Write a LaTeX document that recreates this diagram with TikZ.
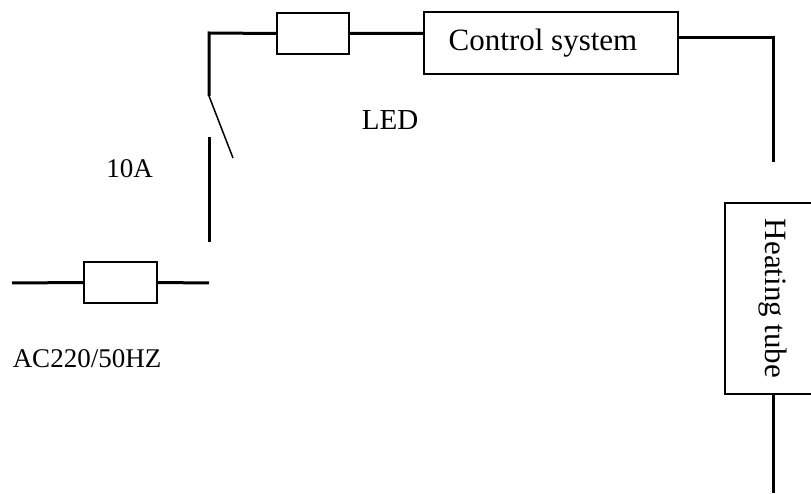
\documentclass[tikz,border=0pt]{standalone}
\usepackage{fontspec}
\setmainfont{Liberation Serif}
\usetikzlibrary{calc}
\usetikzlibrary{positioning}

\begin{document}
\begin{tikzpicture}[x=1pt,y=-1pt,
  wire/.style={line width=3pt},
  box/.style={draw,line width=1.6pt,inner sep=0pt,fill=white},
  lbl/.style={font=\fontsize{27}{30}\selectfont,anchor=base}]
 \useasboundingbox (0,0) rectangle (811,494);
 \node[box,minimum width=73pt,minimum height=41pt] (fuseac) at (120.5,282.5) {};
 \node[box,minimum width=72pt,minimum height=41pt] (fuseled) at (313,33.5) {};
 \node[box,minimum width=254pt,minimum height=62pt,
       font=\fontsize{31}{34}\selectfont] (ctrl) at (551,43) {Control system\kern16pt};
 \node[box,minimum width=96pt,minimum height=191pt,
       font=\fontsize{31}{34}\selectfont] (heat) at (773,298.5)
       {\rotatebox{-90}{Heating tube}};
 \coordinate (acin) at (12,283);
 \coordinate (acout) at (209,283);
 \coordinate (swbot) at (209,242);
 \coordinate (swlow) at (209,137);
 \coordinate (swhigh) at (209,96);
 \coordinate (swtip) at (233,158);
 \coordinate (corner) at (209,33);
 \coordinate (heattop) at (773,162);
 \coordinate (heatend) at (773,493);
 \draw[wire] (acin) -- (fuseac.west)
             (fuseac.east) -- (acout);
 \draw[wire] (swbot) -- (swlow);
 \draw[line width=1.5pt] (swhigh) -- (swtip);
 \draw[wire] (swhigh) -- (corner) -- (fuseled.west)
             (fuseled.east) -- (fuseled.east -| ctrl.west);
 \draw[wire] ([yshift=5pt]ctrl.east) -| (heattop);
 \draw[wire] (heat.south) -- (heatend);
 \node[lbl] (fuselbl) at (129.5,178) {10A};
 \node[lbl] (acilbl) at (87,367) {AC220/50HZ};
 \node[lbl,font=\fontsize{29}{32}\selectfont] (ledlbl) at (390,130) {LED};
\end{tikzpicture}
\end{document}
